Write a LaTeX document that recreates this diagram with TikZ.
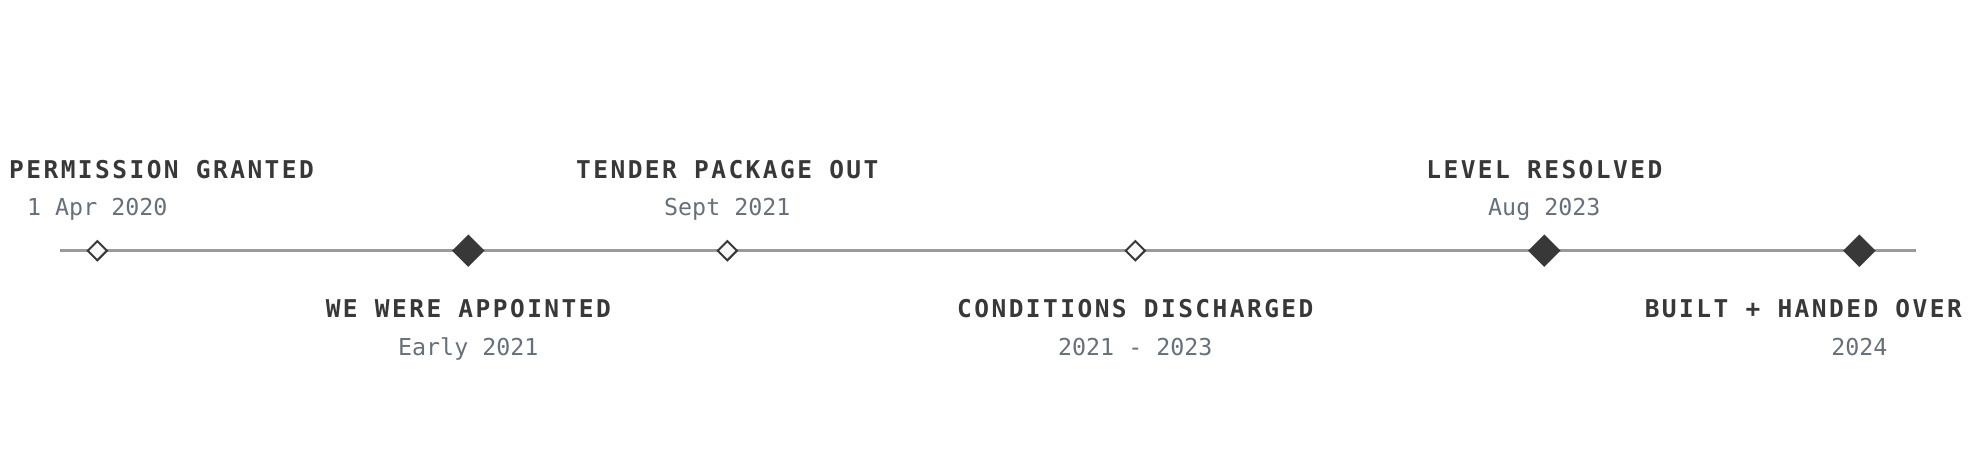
\documentclass[tikz,border=0pt]{standalone}
\usepackage{fontspec}
\usetikzlibrary{shapes.geometric}
\newfontfamily\titlefont[LetterSpace=10.0]{DejaVu Sans Mono}
\newfontfamily\datefont{DejaVu Sans Mono}
\definecolor{axisgray}{HTML}{969CA2}
\definecolor{darkink}{HTML}{383838}
\definecolor{dategray}{HTML}{66707A}
\definecolor{hollowfill}{HTML}{F8F9FB}
\begin{document}
\begin{tikzpicture}[x=1pt,y=-1pt,
  axis/.style={draw=axisgray,line width=2.6pt},
  minor/.style={shape=diamond,draw=darkink,line width=2pt,fill=hollowfill,minimum width=20pt,minimum height=20pt,inner sep=0pt,aspect=1},
  major/.style={shape=diamond,fill=darkink,minimum width=32.6pt,minimum height=32.6pt,inner sep=0pt,aspect=1},
  ttl/.style={font=\titlefont\bfseries\fontsize{24.5}{28}\selectfont,text=darkink,inner sep=0pt,anchor=base},
  dte/.style={font=\datefont\fontsize{23.3}{28}\selectfont,text=dategray,inner sep=0pt,anchor=base}]
\useasboundingbox (0,0) rectangle (1975,475);
\coordinate (ls) at (60,250.7);
\coordinate (le) at (1916,250.7);
\draw[axis] (ls) -- (le);
\node[minor] (d1) at (97.3,250.7) {};
\node[major] (d2) at (468.3,250.7) {};
\node[minor] (d3) at (727.3,250.7) {};
\node[minor] (d4) at (1135.3,250.7) {};
\node[major] (d5) at (1544.3,250.7) {};
\node[major] (d6) at (1859.3,250.7) {};
% above
\node[ttl,anchor=base west] (t1) at (9,178) {PERMISSION GRANTED};
\node[dte] (s1) at (97.3,215) {1 Apr 2020};
\node[ttl] (t3) at (727.3,178) {TENDER PACKAGE OUT};
\node[dte] (s3) at (727.3,215) {Sept 2021};
\node[ttl] (t5) at (1544.3,178) {LEVEL RESOLVED};
\node[dte] (s5) at (1544.3,215) {Aug 2023};
% below
\node[ttl] (t2) at (468.3,317.5) {WE WERE APPOINTED};
\node[dte] (s2) at (468.3,355) {Early 2021};
\node[ttl] (t4) at (1135.3,317.5) {CONDITIONS DISCHARGED};
\node[dte] (s4) at (1135.3,355) {2021 - 2023};
\node[ttl,anchor=base east] (t6) at (1962,317.5) {BUILT + HANDED OVER};
\node[dte] (s6) at (1859.3,355) {2024};
\end{tikzpicture}
\end{document}
